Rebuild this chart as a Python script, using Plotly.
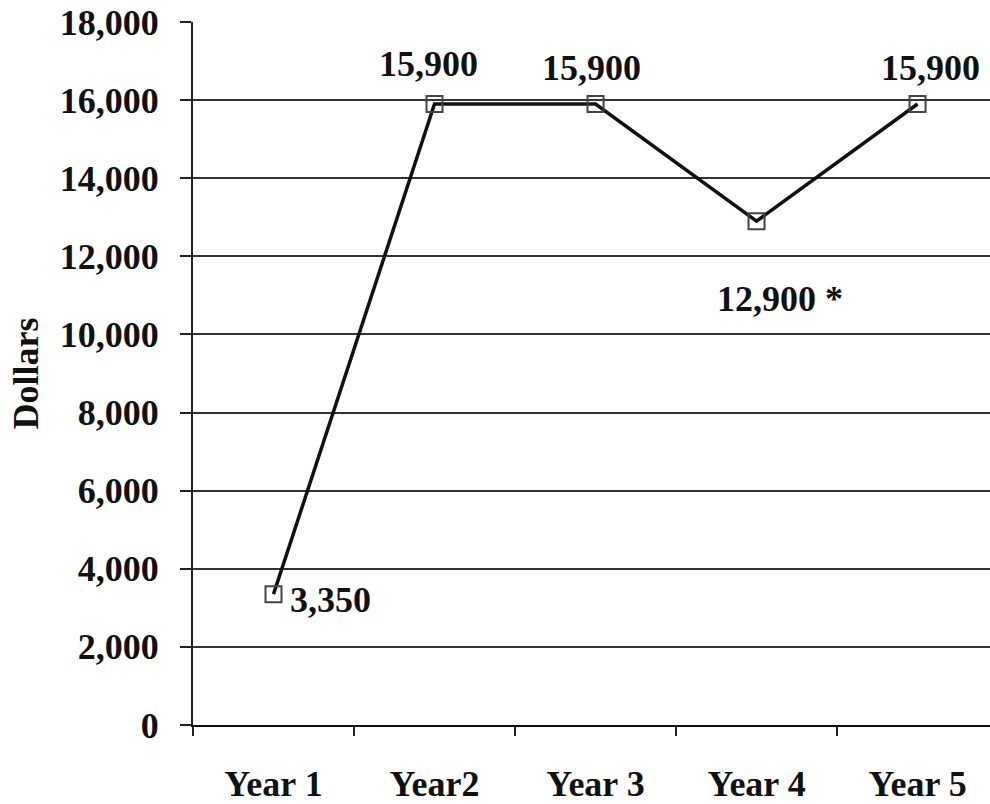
import plotly.graph_objects as go

# Annual dollar amounts
years = ["Year 1", "Year2", "Year 3", "Year 4", "Year 5"]
dollars = [3350, 15900, 15900, 12900, 15900]
label_suffix = ["", "", "", " *", ""]

# label placement (style only)
label_xanchor = ["left", "center", "center", "left", "center"]
label_xshift = [14, -6, -4, -42, 13]
label_yshift = [-6, 40, 36, -78, 36]

FONT = "Liberation Serif, Times New Roman, serif"
FS = 36

fig = go.Figure()
fig.add_trace(go.Scatter(
    x=years, y=dollars, mode="lines+markers",
    line=dict(color="#111111", width=3.5),
    marker=dict(symbol="square-open", size=16, color="#444444",
                line=dict(width=2, color="#444444")),
    hoverinfo="skip", showlegend=False,
))

for i, (yr, v) in enumerate(zip(years, dollars)):
    fig.add_annotation(
        x=yr, y=v, text=f"<b>{v:,}{label_suffix[i]}</b>", showarrow=False,
        xanchor=label_xanchor[i], yanchor="middle",
        xshift=label_xshift[i], yshift=label_yshift[i],
        font=dict(family=FONT, size=FS, color="#111111"),
    )

fig.add_annotation(
    xref="paper", yref="paper", x=(25 - 193) / 797, y=0.5,
    text="<b>Dollars</b>", textangle=-90, showarrow=False,
    xanchor="center", yanchor="middle",
    font=dict(family=FONT, size=FS, color="#111111"),
)

fig.update_layout(
    width=990, height=804,
    margin=dict(l=193, r=0, t=22, b=74),
    paper_bgcolor="white", plot_bgcolor="white",
    font=dict(family=FONT, size=FS, color="#111111"),
    xaxis=dict(
        type="category", range=[-0.5, 4.45],
        showline=True, linecolor="#111111", linewidth=2,
        ticks="outside", tickson="boundaries", ticklen=9, tickwidth=2,
        tickcolor="#222222", showgrid=False, zeroline=False,
        tickfont=dict(family=FONT, size=FS, color="#111111"),
        ticklabelstandoff=26,
    ),
    yaxis=dict(
        range=[0, 18000], dtick=2000, tickformat=",d",
        showline=True, linecolor="#222222", linewidth=2,
        ticks="outside", ticklen=11, tickwidth=2, tickcolor="#222222",
        showgrid=True, gridcolor="#333333", gridwidth=2,
        zeroline=False,
        tickfont=dict(family=FONT, size=FS, color="#111111"),
        ticklabelstandoff=14,
    ),
)
fig.update_xaxes(tickprefix="<b>", ticksuffix="</b>")
fig.update_yaxes(tickprefix="<b>", ticksuffix="</b>")

fig.write_html("out.html")
